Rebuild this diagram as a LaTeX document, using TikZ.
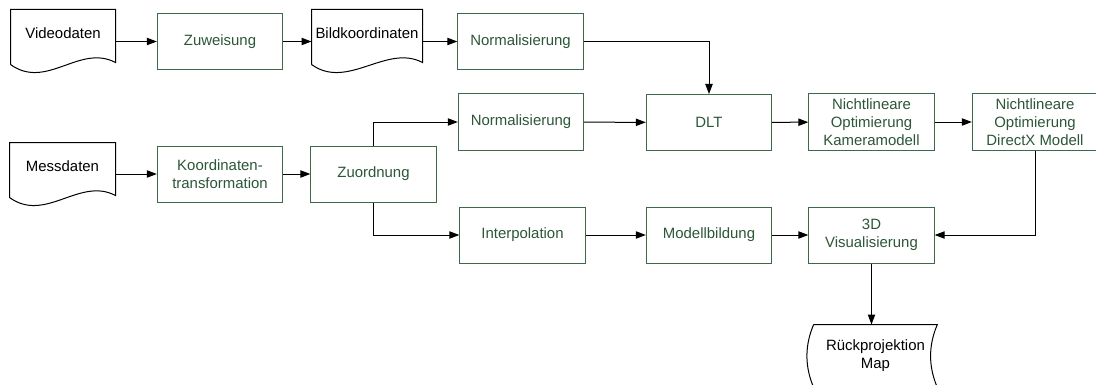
\documentclass[tikz,border=0pt]{standalone}
\usepackage{fontspec}
\setmainfont{Liberation Sans}
\usetikzlibrary{arrows.meta,calc}
\definecolor{boxgreen}{RGB}{62,104,74}
\definecolor{textgreen}{RGB}{44,86,56}
\tikzset{
        blocknode/.style={align=center,inner sep=0pt},
        % Processing steps
        node_process/.style={blocknode, rectangle, textgreen, draw=boxgreen, fill=white, minimum width=94pt, minimum height=42pt},
        % Input documents
        node_document/.style={blocknode, rectangle, black, minimum width=78pt, minimum height=34.5pt},
        % Stored output
        node_storage/.style={blocknode, rectangle, black, minimum width=92pt, minimum height=46.5pt},
        % Connectors
        flow/.style={draw=black, -{Triangle[length=7.5pt,width=5.5pt]}}
}
% outline of a document with a wavy lower edge
\newcommand{\docoutline}[1]{%
  \draw ($(#1.south west)+(0,8)$) -- (#1.north west) -- (#1.north east) -- ($(#1.south east)+(0,6)$)
    .. controls +(-36,-19) and +(36,26) .. ($(#1.south west)+(0,8)$);}
% outline of stored data
\newcommand{\storeoutline}[1]{%
  \draw (#1.north west) -- (#1.north east) .. controls +(-9,21) and +(-9,-21) .. (#1.south east)
    -- (#1.south west) .. controls +(-9,-21) and +(-9,21) .. (#1.north west);}

\begin{document}
\begin{tikzpicture}[
            x=0.75pt, y=-0.75pt,
            line width=0.75pt,
            font=\fontsize{11.2}{13.5}\selectfont
        ]
            \useasboundingbox (0,0) rectangle (1096,385);
            % upper row
            \node[node_document] (videodaten) at (63,33) {Videodaten};
            \node[node_process] (zuweisung) at (220,41.5) {Zuweisung};
            \node[node_document, minimum width=82.5pt] (bildkoord) at (367,33) {Bildkoordinaten};
            \node[node_process] (norm_video) at (520.5,41.5) {Normalisierung};
            % middle row
            \node[node_document, minimum width=78.75pt] (messdaten) at (62.5,166) {Messdaten};
            \node[node_process] (koord) at (220,174) {Koordinaten-\\transformation};
            \node[node_process] (zuordnung) at (373.5,174) {Zuordnung};
            \node[node_process] (norm_mess) at (521,122) {Normalisierung};
            \node[node_process] (dlt) at (709,122.5) {DLT};
            \node[node_process] (opt_kamera) at (871.5,122) {Nichtlineare\\Optimierung\\Kameramodell};
            \node[node_process] (opt_directx) at (1035,122) {Nichtlineare\\Optimierung\\DirectX Modell};
            % lower row
            \node[node_process] (interpolation) at (522.5,235) {Interpolation};
            \node[node_process] (modell) at (709,235) {Modellbildung};
            \node[node_process] (visual) at (871.5,235) {3D\\Visualisierung};
            \node[node_storage] (rueck) at (875.5,356) {Rückprojektion\\Map};

            \docoutline{videodaten}
            \docoutline{bildkoord}
            \docoutline{messdaten}
            \storeoutline{rueck}

            \draw[flow] (videodaten.east |- zuweisung.west) -- (zuweisung.west);
            \draw[flow] (zuweisung.east) -- (bildkoord.west |- zuweisung.east);
            \draw[flow] (bildkoord.east |- norm_video.west) -- (norm_video.west);
            \draw[flow] (norm_video.east) -| (dlt.north);
            \draw[flow] (messdaten.east |- koord.west) -- (koord.west);
            \draw[flow] (koord) -- (zuordnung);
            \draw[flow] (zuordnung.north) |- (norm_mess.west);
            \draw[flow] (zuordnung.south) |- (interpolation.west);
            \draw[flow] (norm_mess) -- (dlt);
            \draw[flow] (dlt) -- (opt_kamera);
            \draw[flow] (opt_kamera) -- (opt_directx);
            \draw[flow] (opt_directx.south) |- (visual.east);
            \draw[flow] (interpolation) -- (modell);
            \draw[flow] (modell) -- (visual);
            \draw[flow] (visual.south) -- (visual.south |- rueck.north);
        \end{tikzpicture}
\end{document}
